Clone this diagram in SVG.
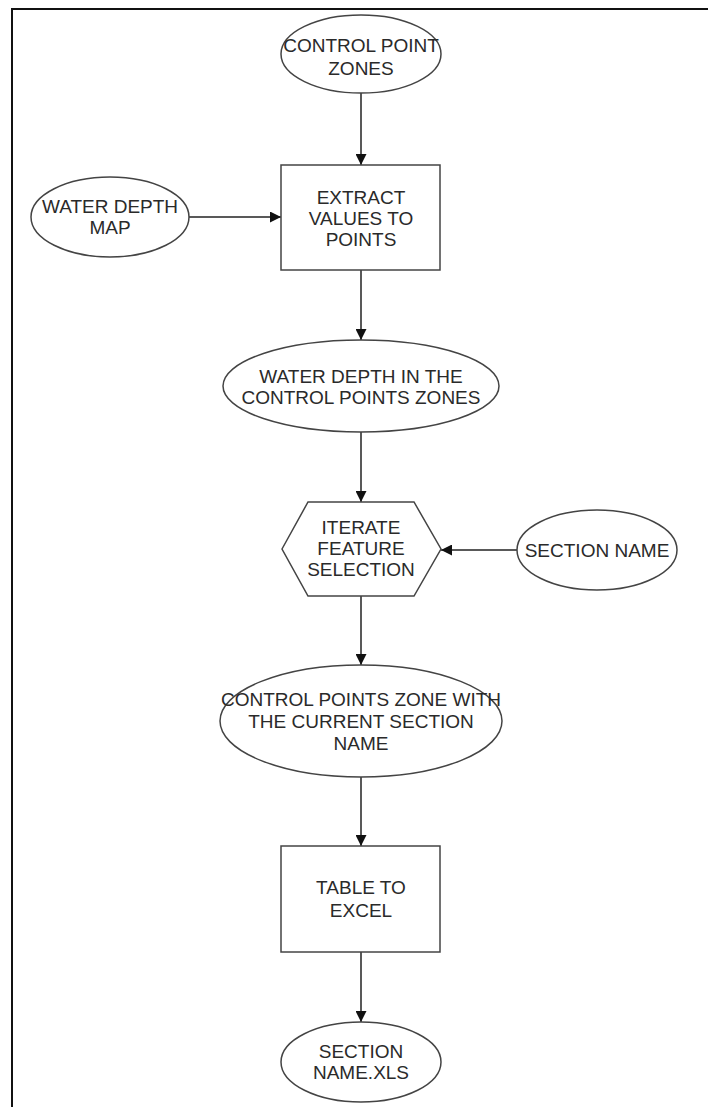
<svg xmlns="http://www.w3.org/2000/svg" width="708" height="1107" viewBox="0 0 708 1107">
<defs>
<marker id="ah" viewBox="0 0 10 10" refX="10" refY="5" markerWidth="11" markerHeight="11" markerUnits="userSpaceOnUse" orient="auto">
<path d="M0,0 L10,5 L0,10 Z" fill="#111"/>
</marker>
<style>
.s{fill:#fff;stroke:#444;stroke-width:1.5}
.t{font-family:"Liberation Sans",Arial,sans-serif;font-size:19px;fill:#2a2a2a;text-anchor:middle}
.c{stroke:#222;stroke-width:1.5;fill:none;marker-end:url(#ah)}
</style>
</defs>
<rect width="708" height="1107" fill="#fff"/>
<path d="M12,1107 L12,9 L708,9" fill="none" stroke="#111" stroke-width="2"/>
<g id="connectors">
<line class="c" x1="361" y1="93" x2="361" y2="165"/>
<line class="c" x1="189" y1="217" x2="281" y2="217"/>
<line class="c" x1="361" y1="270" x2="361" y2="340"/>
<line class="c" x1="361" y1="432" x2="361" y2="502"/>
<line class="c" x1="517" y1="550" x2="441" y2="550"/>
<line class="c" x1="361" y1="596" x2="361" y2="665"/>
<line class="c" x1="361" y1="777" x2="361" y2="846"/>
<line class="c" x1="361" y1="952" x2="361" y2="1022"/>
</g>
<g id="control-point-zones">
<ellipse class="s" cx="361" cy="54" rx="80" ry="39"/>
<text class="t" x="361" y="52">CONTROL POINT</text>
<text class="t" x="361" y="75">ZONES</text>
</g>
<g id="extract-values">
<rect class="s" x="281" y="165" width="159" height="105"/>
<text class="t" x="361" y="204">EXTRACT</text>
<text class="t" x="361" y="225">VALUES TO</text>
<text class="t" x="361" y="246">POINTS</text>
</g>
<g id="water-depth-map">
<ellipse class="s" cx="110" cy="217" rx="79" ry="40"/>
<text class="t" x="110" y="213">WATER DEPTH</text>
<text class="t" x="110" y="234">MAP</text>
</g>
<g id="water-depth-zones">
<ellipse class="s" cx="361" cy="386" rx="138" ry="46"/>
<text class="t" x="361" y="383">WATER DEPTH IN THE</text>
<text class="t" x="361" y="404">CONTROL POINTS ZONES</text>
</g>
<g id="iterate-feature-selection">
<polygon class="s" points="282,549 308,502 414,502 441,549 414,596 308,596"/>
<text class="t" x="361" y="534">ITERATE</text>
<text class="t" x="361" y="555">FEATURE</text>
<text class="t" x="361" y="576">SELECTION</text>
</g>
<g id="section-name">
<ellipse class="s" cx="597" cy="550" rx="80" ry="40"/>
<text class="t" x="597" y="557">SECTION NAME</text>
</g>
<g id="control-points-zone-current">
<ellipse class="s" cx="361" cy="721" rx="141" ry="56"/>
<text class="t" x="361" y="706">CONTROL POINTS ZONE WITH</text>
<text class="t" x="361" y="728">THE CURRENT SECTION</text>
<text class="t" x="361" y="750">NAME</text>
</g>
<g id="table-to-excel">
<rect class="s" x="281" y="846" width="159" height="106"/>
<text class="t" x="361" y="894">TABLE TO</text>
<text class="t" x="361" y="917">EXCEL</text>
</g>
<g id="section-name-xls">
<ellipse class="s" cx="361" cy="1062" rx="80" ry="40"/>
<text class="t" x="361" y="1058">SECTION</text>
<text class="t" x="361" y="1079">NAME.XLS</text>
</g>
</svg>
